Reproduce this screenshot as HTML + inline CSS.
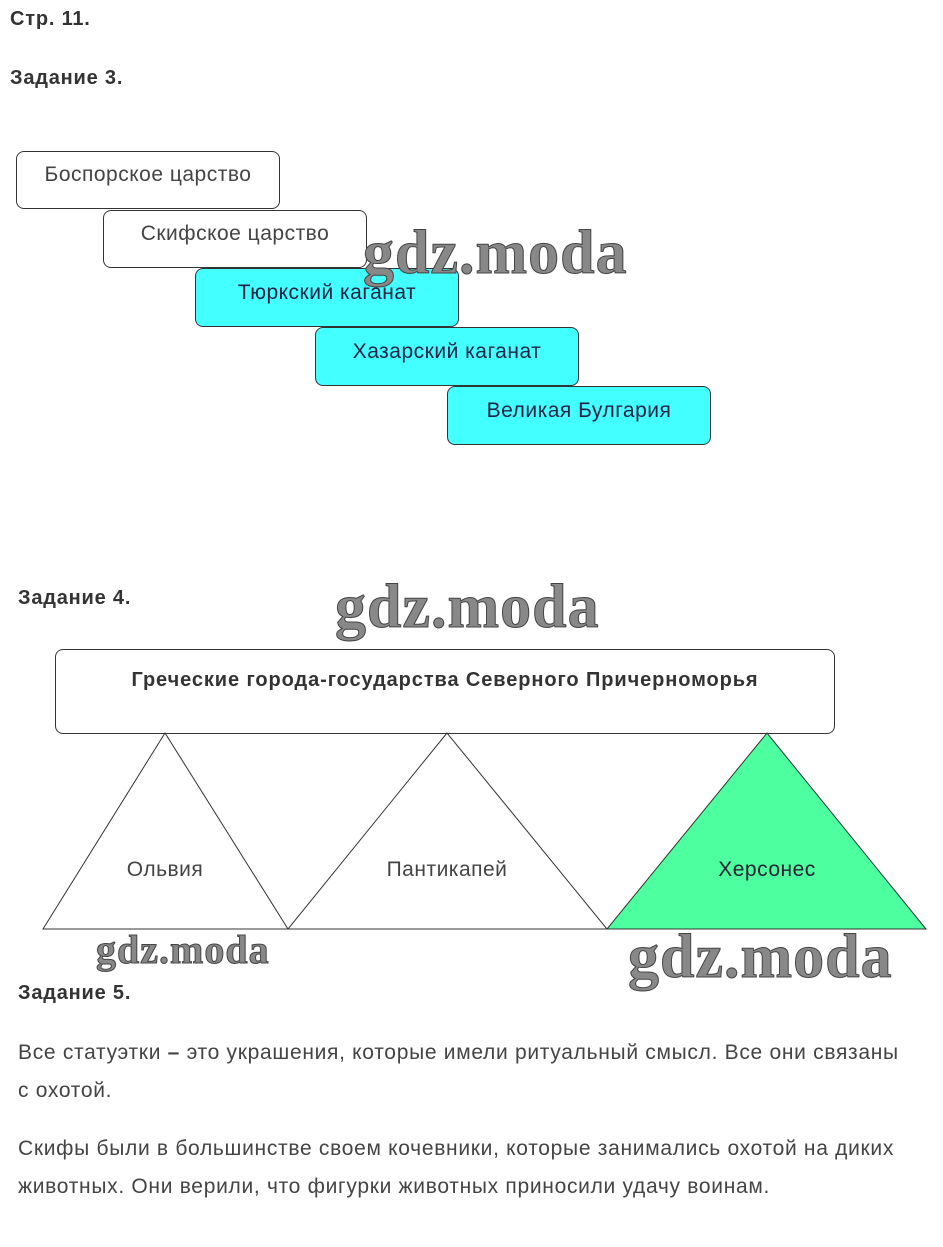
<!DOCTYPE html>
<html><head><meta charset="utf-8"><style>
body{margin:0;width:943px;height:1247px;background:#fff;position:relative;font-family:"Liberation Sans",sans-serif;color:#333;overflow:hidden}
.a{position:absolute}
.h{font-weight:bold;font-size:20px;letter-spacing:0.8px;color:#333}
.box{position:absolute;box-sizing:border-box;border:1px solid #333;border-radius:8px;display:flex;align-items:center;justify-content:center;font-size:21px;letter-spacing:0.5px;color:#444}
.c{background:#44ffff;color:#224}
.wm{position:absolute;font-family:"Liberation Serif",serif;font-weight:bold;color:#888;-webkit-text-stroke:1px #444;letter-spacing:1px;line-height:1}
p{margin:0}
</style></head><body>
<div class="a h" style="left:10px;top:8px">Стр. 11.</div>
<div class="a h" style="left:10px;top:67px">Задание 3.</div>
<div class="box" style="left:16px;top:151px;width:264px;height:58px;padding-bottom:10px">Боспорское царство</div>
<div class="box" style="left:103px;top:210px;width:264px;height:58px;padding-bottom:10px">Скифское царство</div>
<div class="box c" style="left:195px;top:268px;width:264px;height:59px;padding-bottom:10px">Тюркский каганат</div>
<div class="box c" style="left:315px;top:327px;width:264px;height:59px;padding-bottom:10px">Хазарский каганат</div>
<div class="box c" style="left:447px;top:386px;width:264px;height:59px;padding-bottom:10px">Великая Булгария</div>
<div class="wm" style="left:363px;top:222px;font-size:62px">gdz.moda</div>
<div class="a h" style="left:18px;top:587px">Задание 4.</div>
<div class="wm" style="left:335px;top:576px;font-size:62px">gdz.moda</div>
<div class="box" style="left:55px;top:649px;width:780px;height:85px;align-items:flex-start;padding-top:19px;font-weight:bold;font-size:20px;letter-spacing:0.9px;color:#333">Греческие города-государства Северного Причерноморья</div>
<svg class="a" style="left:0;top:0" width="943" height="1247">
<polygon points="165,733 43,929 288,929" fill="#fff" stroke="#333" stroke-width="1"/>
<polygon points="447,733 288,929 607,929" fill="#fff" stroke="#333" stroke-width="1"/>
<polygon points="767,733 607,929 926,929" fill="#4dff9f" stroke="#333" stroke-width="1"/>
<line x1="43" y1="929" x2="926" y2="929" stroke="#333"/>
<g font-family="Liberation Sans,sans-serif" font-size="21" letter-spacing="0.5" fill="#444" text-anchor="middle">
<text x="165" y="876">Ольвия</text><text x="447" y="876">Пантикапей</text><text x="767" y="876" fill="#223">Херсонес</text></g>
</svg>
<div class="wm" style="left:96px;top:930px;font-size:40px">gdz.moda</div>
<div class="wm" style="left:628px;top:926px;font-size:62px">gdz.moda</div>
<div class="a h" style="left:18px;top:982px">Задание 5.</div>
<div class="a" style="left:18px;top:1034px;width:908px;font-size:21px;letter-spacing:0.7px;line-height:38px;color:#444">
<p>Все статуэтки <b>–</b> это украшения, которые имели ритуальный смысл. Все они связаны&nbsp;<br>с охотой.</p>
<p style="margin-top:20px">Скифы были в большинстве своем кочевники, которые занимались охотой на диких животных. Они верили, что фигурки животных приносили удачу воинам.</p>
</div>
</body></html>
